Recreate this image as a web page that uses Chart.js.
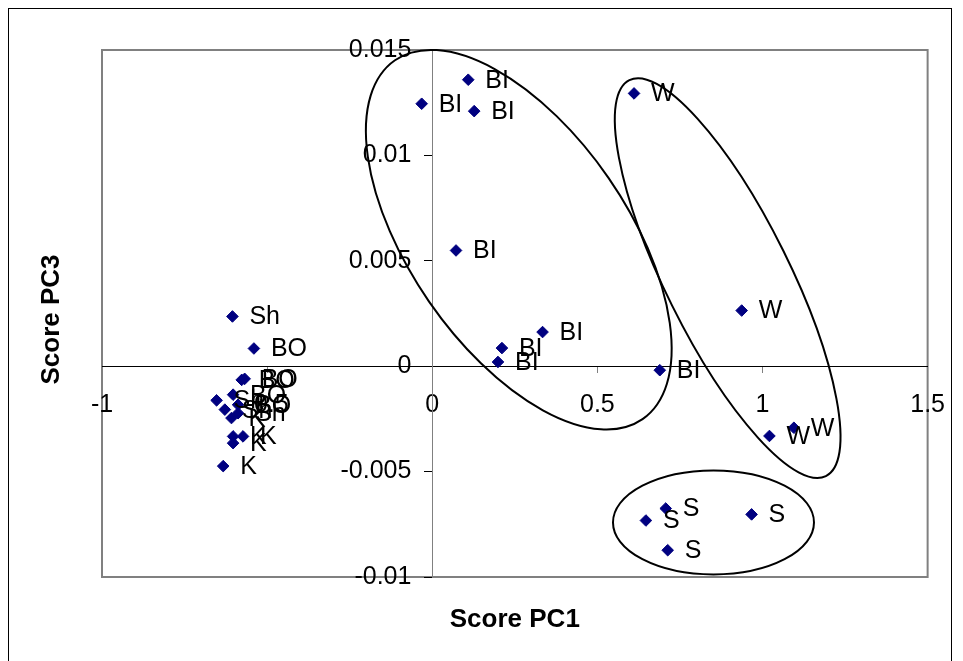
<!DOCTYPE html>
<html>
<head>
<meta charset="utf-8">
<script src="https://cdn.jsdelivr.net/npm/chart.js@4.4.1/dist/chart.umd.min.js"></script>
<style>
  html, body { margin: 0; padding: 0; background: #ffffff; }
  #wrap { position: relative; width: 963px; height: 661px; }
  canvas { display: block; }
</style>
</head>
<body>
<div id="wrap"><canvas id="scores" width="963" height="661"></canvas></div>
<script>
// Sample codes and their principal component scores
const sampleLabels = [
  'BI', 'BI', 'BI', 'BI', 'BI', 'BI', 'BI', 'BI',
  'W', 'W', 'W', 'W',
  'S', 'S', 'S', 'S',
  'Sh', 'BO', 'BO', 'BO', 'Sh', 'BO', 'BO', 'Sh', 'Sh',
  'K', 'K', 'K', 'K', 'K'
];
const pc1Scores = [
  -0.032, 0.109, 0.127, 0.072, 0.334, 0.211, 0.199, 0.689,
  0.611, 0.937, 1.021, 1.095,
  0.647, 0.707, 0.967, 0.713,
  -0.605, -0.540, -0.577, -0.568, -0.653, -0.603, -0.588, -0.628, -0.588,
  -0.608, -0.603, -0.573, -0.603, -0.633
];
const pc3Scores = [
  0.01245, 0.01359, 0.01210, 0.00549, 0.00162, 0.00086, 0.00020, -0.00019,
  0.01294, 0.00264, -0.00331, -0.00292,
  -0.00732, -0.00675, -0.00703, -0.00873,
  0.00236, 0.00084, -0.00065, -0.00060, -0.00162, -0.00135, -0.00183, -0.00206, -0.00223,
  -0.00246, -0.00333, -0.00333, -0.00365, -0.00474
];

// Axis ticks
const pc1Ticks = [-1, -0.5, 0, 0.5, 1, 1.5];
const pc3Ticks = [-0.01, -0.005, 0, 0.005, 0.01, 0.015];

// Hand-drawn group outlines: centre in score units, radii in pixels, tilt in degrees
const groupOutlines = [
  { pc1: 0.262, pc3: 0.0060, rx: 218, ry: 109, tilt: 55.4 },
  { pc1: 0.8945, pc3: 0.00418, rx: 221, ry: 62, tilt: 63.6 },
  { pc1: 0.8516, pc3: -0.00741, rx: 100.5, ry: 52, tilt: 0 }
];

const FONT = 'Arial, "Liberation Sans", Helvetica, sans-serif';

const points = pc1Scores.map((x, i) => ({ x: x, y: pc3Scores[i] }));

const fmt = v => String(Number(v.toFixed(4)));

const framePlugin = {
  id: 'frame',
  beforeDraw(chart) {
    const ctx = chart.ctx;
    const a = chart.chartArea;
    ctx.save();
    ctx.fillStyle = '#ffffff';
    ctx.fillRect(0, 0, chart.width, chart.height);
    ctx.strokeStyle = '#000000';
    ctx.lineWidth = 1;
    ctx.strokeRect(8.5, 8.5, 943, 700);
    ctx.strokeStyle = '#808080';
    ctx.lineWidth = 2;
    ctx.strokeRect(a.left, a.top, a.right - a.left, a.bottom - a.top);
    ctx.restore();
  }
};

const pointLabelPlugin = {
  id: 'pointLabels',
  afterDatasetsDraw(chart) {
    const ctx = chart.ctx;
    const meta = chart.getDatasetMeta(0);
    ctx.save();
    ctx.font = '25px ' + FONT;
    ctx.fillStyle = '#000000';
    ctx.textAlign = 'left';
    ctx.textBaseline = 'middle';
    meta.data.forEach((el, i) => {
      ctx.fillText(sampleLabels[i], el.x + 17, el.y + 1);
    });
    ctx.restore();
  }
};

const outlinePlugin = {
  id: 'outlines',
  afterDatasetsDraw(chart) {
    const ctx = chart.ctx;
    const xs = chart.scales.x, ys = chart.scales.y;
    ctx.save();
    ctx.strokeStyle = '#000000';
    ctx.lineWidth = 2;
    groupOutlines.forEach(g => {
      ctx.beginPath();
      ctx.ellipse(xs.getPixelForValue(g.pc1), ys.getPixelForValue(g.pc3),
        g.rx, g.ry, g.tilt * Math.PI / 180, 0, Math.PI * 2);
      ctx.stroke();
    });
    ctx.restore();
  }
};

const axisTitlePlugin = {
  id: 'axisTitles',
  afterDraw(chart) {
    const ctx = chart.ctx;
    const a = chart.chartArea;
    ctx.save();
    ctx.font = 'bold 26px ' + FONT;
    ctx.fillStyle = '#000000';
    ctx.textAlign = 'center';
    ctx.textBaseline = 'middle';
    ctx.fillText('Score PC1', (a.left + a.right) / 2, 620);
    ctx.translate(52, (a.top + a.bottom) / 2 + 6);
    ctx.rotate(-Math.PI / 2);
    ctx.fillText('Score PC3', 0, 0);
    ctx.restore();
  }
};

new Chart(document.getElementById('scores'), {
  type: 'scatter',
  data: {
    datasets: [{
      data: points,
      pointStyle: 'rectRot',
      pointRadius: 5.8,
      pointHoverRadius: 5.8,
      backgroundColor: '#000080',
      borderColor: '#000080',
      borderWidth: 1
    }]
  },
  options: {
    responsive: false,
    animation: false,
    devicePixelRatio: 1,
    layout: { padding: { left: 102, top: 50, right: 34, bottom: 84 } },
    plugins: {
      legend: { display: false },
      tooltip: { enabled: false },
      title: { display: false }
    },
    scales: {
      x: {
        type: 'linear',
        min: -1,
        max: 1.5,
        position: { y: 0 },
        afterBuildTicks: s => { s.ticks = pc1Ticks.map(v => ({ value: v })); },
        ticks: {
          autoSkip: false,
          maxRotation: 0,
          padding: 18,
          color: '#000000',
          font: { family: FONT, size: 25 },
          callback: v => fmt(v)
        },
        grid: {
          display: true,
          drawOnChartArea: false,
          drawTicks: true,
          tickLength: 6,
          color: '#808080'
        },
        border: { display: true, color: '#000000', width: 1 }
      },
      y: {
        type: 'linear',
        min: -0.01,
        max: 0.015,
        position: { x: 0 },
        afterBuildTicks: s => { s.ticks = pc3Ticks.map(v => ({ value: v })); },
        ticks: {
          autoSkip: false,
          color: '#000000',
          font: { family: FONT, size: 25 },
          // labels of an axis crossing the plot sit right on its line; trailing spaces keep them clear of the tick marks
          callback: v => fmt(v) + '   '
        },
        grid: {
          display: true,
          drawOnChartArea: false,
          drawTicks: true,
          tickLength: 8,
          color: '#000000'
        },
        border: { display: true, color: '#808080', width: 1 }
      }
    }
  },
  plugins: [framePlugin, pointLabelPlugin, outlinePlugin, axisTitlePlugin]
});
</script>
</body>
</html>
